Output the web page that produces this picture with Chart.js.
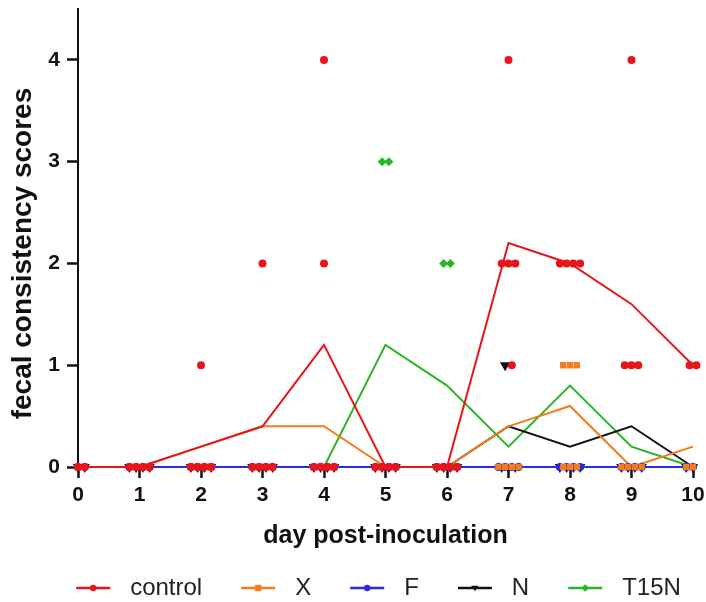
<!DOCTYPE html>
<html><head><meta charset="utf-8">
<script src="https://cdn.jsdelivr.net/npm/chart.js@4"></script>
<style>html,body{margin:0;padding:0;background:#fff}#wrap{width:706px;height:602px}</style>
</head><body><div id="wrap"><canvas id="c" width="706" height="602"></canvas></div>
<script>
const days = [0,1,2,3,4,5,6,7,8,9,10];
const groupNames = ['control','X','F','N','T15N'];
const groupColors = ['#e8141c','#f27c1e','#2a2ae0','#111111','#26b626'];
const groupStyles = ['circle','rect','circle','triangle','rectRot'];
// mean lines
const meanControl = [0,0,0.2,0.4,1.2,0,0,2.2,2.0,1.6,1.0];
const meanX       = [0,0,0.2,0.4,0.4,0,0,0.4,0.6,0,0.2];
const meanF       = [0,0,0,0,0,0,0,0,0,0,0];
const meanN       = [0,0,0,0,0,0,0,0.4,0.2,0.4,0];
const meanT15N    = [0,0,0,0,0,1.2,0.8,0.2,0.8,0.2,0];
// individual scores per day (visible dots)
const ptsControl = [[0,0,0],[0,0,0,0],[1,0,0,0,0],[2,0,0,0,0],[4,2,0,0,0,0],[0,0,0,0],[0,0,0,0],[4,2,2,2,1],[2,2,2,2],[4,1,1,1],[1,1]];
const ptsX       = [[0,0,0],[0,0,0,0],[0,0,0,0],[0,0,0,0],[0,0,0,0],[0,0,0,0],[0,0,0,0],[0,0,0,0],[1,1,1,0,0,0],[0,0,0,0],[0,0,0]];
const ptsF       = [[0,0,0],[0,0,0,0],[0,0,0,0],[0,0,0,0],[0,0,0,0],[0,0,0,0],[0,0,0,0],[0,0,0,0],[0,0,0,0],[0,0,0,0],[0,0,0]];
const ptsN       = [[0,0,0],[0,0,0,0],[0,0,0,0],[0,0,0,0],[0,0,0,0],[0,0,0,0],[0,0,0,0],[1,0,0,0],[0,0,0,0],[0,0,0,0],[0,0,0]];
const ptsT15N    = [[0,0,0],[0,0,0,0],[0,0,0,0],[0,0,0,0],[0,0,0,0],[3,3,0,0],[2,2,0,0],[0,0,0,0],[0,0,0,0],[0,0,0,0],[0,0,0]];
const yTickValues = [0,1,2,3,4];
const xTickValues = [0,1,2,3,4,5,6,7,8,9,10];

const allMeans = [meanControl, meanX, meanF, meanN, meanT15N];
const allPts = [ptsControl, ptsX, ptsF, ptsN, ptsT15N];
const spreadOrder = [3,4,2,1,0];
const STEP = 0.11;

function scatterData(g) {
  const out = [];
  days.forEach((d, di) => {
    const vals = allPts[g][di];
    [...new Set(vals)].forEach(v => {
      let members = [];
      if (v === 0) members = [[g, vals.filter(x => x === 0).length]];
      else spreadOrder.forEach(h => { const c = allPts[h][di].filter(x => x === v).length; if (c) members.push([h, c]); });
      const total = members.reduce((s, m) => s + m[1], 0);
      let start = 0; for (const [h, c] of members) { if (h === g) break; start += c; }
      const mine = vals.filter(x => x === v).length;
      for (let k = 0; k < mine; k++) out.push({x: d + (start + k - (total - 1) / 2) * STEP, y: v});
    });
  });
  return out;
}

function legendIcon(color, style) {
  const c = document.createElement('canvas');
  c.width = 76; c.height = 14;
  const ctx = c.getContext('2d');
  ctx.strokeStyle = color; ctx.fillStyle = color; ctx.lineWidth = 2.5;
  ctx.beginPath(); ctx.moveTo(34, 7); ctx.lineTo(68, 7); ctx.stroke();
  const cx = 51, cy = 7, r = 3.2;
  ctx.beginPath();
  if (style === 'rect') ctx.rect(cx - r, cy - r, 2 * r, 2 * r);
  else if (style === 'triangle') { ctx.moveTo(cx - r - 0.5, cy - r + 1); ctx.lineTo(cx + r + 0.5, cy - r + 1); ctx.lineTo(cx, cy + r); ctx.closePath(); }
  else if (style === 'rectRot') { ctx.moveTo(cx, cy - r - 0.5); ctx.lineTo(cx + r + 0.5, cy); ctx.lineTo(cx, cy + r + 0.5); ctx.lineTo(cx - r - 0.5, cy); ctx.closePath(); }
  else ctx.arc(cx, cy, r, 0, Math.PI * 2);
  ctx.fill();
  return c;
}
const icons = groupColors.map((c, i) => legendIcon(c, groupStyles[i]));

const datasets = [];
groupNames.forEach((name, g) => {
  datasets.push({
    type: 'line', label: name, order: 1,
    data: days.map((d, i) => ({x: d, y: allMeans[g][i]})),
    borderColor: groupColors[g], backgroundColor: groupColors[g],
    borderWidth: 2, pointRadius: 0, tension: 0, fill: false, clip: false
  });
});
groupNames.forEach((name, g) => {
  datasets.push({
    type: 'scatter', label: name + ' points', order: 0,
    data: scatterData(g),
    backgroundColor: groupColors[g], borderColor: groupColors[g], borderWidth: 0,
    pointStyle: groupStyles[g],
    pointRadius: g === 3 ? 6 : (g === 4 ? 4.5 : (g === 1 ? 4.5 : 4)),
    pointRotation: g === 3 ? 180 : 0,
    showLine: false, clip: false
  });
});

Chart.defaults.font.family = "'Liberation Sans', Arial, sans-serif";
Chart.defaults.color = '#111';

new Chart(document.getElementById('c'), {
  type: 'scatter',
  data: { datasets },
  options: {
    responsive: false, animation: false, devicePixelRatio: 1,
    layout: { padding: { left: 30, right: 13, top: 9, bottom: -8 } },
    plugins: {
      tooltip: { enabled: false },
      legend: {
        position: 'bottom',
        labels: {
          usePointStyle: true, pointStyleWidth: 76, padding: 5,
          color: '#222', font: { size: 24 },
          generateLabels(chart) {
            const items = Chart.defaults.plugins.legend.labels.generateLabels(chart);
            return items.filter(it => it.datasetIndex < 5).map(it => Object.assign({}, it, { pointStyle: icons[it.datasetIndex] }));
          }
        }
      }
    },
    scales: {
      x: {
        type: 'linear', min: 0, max: 10,
        afterBuildTicks(s) { s.ticks = xTickValues.map(v => ({value: v})); },
        afterFit(s) { s.height = 104; s.paddingLeft = 0; s.paddingRight = 0; },
        ticks: { stepSize: 1, padding: 5, color: '#111', font: { size: 21, weight: 'bold' } },
        grid: { drawOnChartArea: false, drawTicks: true, tickLength: 11, tickWidth: 2.5, tickColor: '#111' },
        border: { display: true, color: '#111', width: 2 },
        title: { display: true, text: 'day post-inoculation', color: '#111', font: { size: 25, weight: 'bold' }, padding: { top: 0, bottom: 20 } }
      },
      y: {
        type: 'linear', min: 0, max: 4.5,
        afterBuildTicks(s) { s.ticks = yTickValues.map(v => ({value: v})); },
        afterFit(s) { s.width = 48; s.paddingTop = 0; s.paddingBottom = 0; },
        ticks: { stepSize: 1, padding: 7, color: '#111', font: { size: 21, weight: 'bold' } },
        grid: { drawOnChartArea: false, drawTicks: true, tickLength: 11, tickWidth: 2.5, tickColor: '#111' },
        border: { display: true, color: '#111', width: 2 },
        title: { display: true, text: 'fecal consistency scores    ', color: '#111', font: { size: 28, weight: 'bold' }, padding: { top: -23.5, bottom: 0 } }
      }
    }
  }
});
</script></body></html>
